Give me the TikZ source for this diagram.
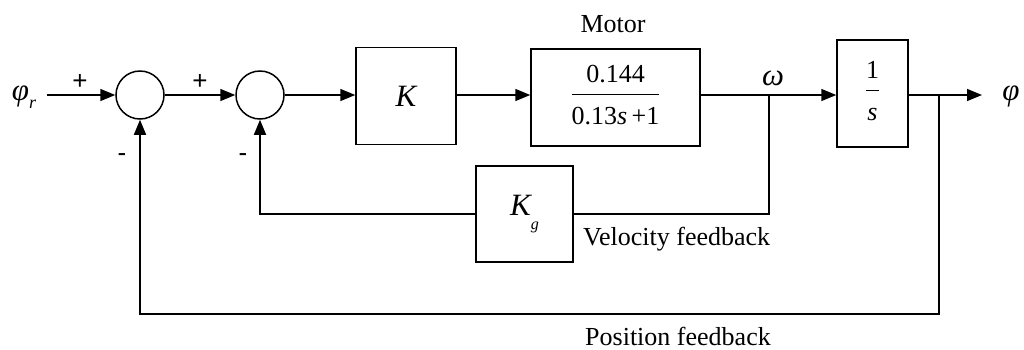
\RequirePackage{fix-cm}
\documentclass[tikz,border=0pt]{standalone}
\usepackage{fontspec}
\setmainfont{Liberation Serif}
\newfontfamily\signfont{Liberation Sans}
\usetikzlibrary{arrows.meta,positioning,calc}

\tikzset{
  sumnode/.style={draw, circle, line width=1.5pt, minimum size=48pt, inner sep=0pt},
  blockbox/.style={draw, rectangle, line width=1.5pt, inner sep=0pt},
  sig/.style={line width=1.5pt},
  sigarrow/.style={sig, -{Triangle[length=15pt,width=12pt]}},
  lbl/.style={font=\fontsize{26}{30}\selectfont, inner sep=0pt},
  biglbl/.style={font=\fontsize{31}{36}\selectfont\itshape, inner sep=0pt},
  signlbl/.style={font=\signfont\fontsize{26}{30}\selectfont, inner sep=0pt},
}
% fraction set in the text font
\newcommand{\blockfrac}[2]{%
  \begin{tabular}{@{}c@{}}#1\\[3pt]\hline\rule{0pt}{30pt}#2\end{tabular}}

\begin{document}
\begin{tikzpicture}[x=1pt, y=-1pt]
    \useasboundingbox (0,0) rectangle (1024,349);
    % blocks
    \node[sumnode] (sum1) at (140,95) {};
    \node[sumnode] (sum2) at (260,95) {};
    \node[blockbox, biglbl, minimum width=100pt, minimum height=97pt] (gainK) at (406,96) {K};
    \node[blockbox, lbl, minimum width=169pt, minimum height=97pt] (motor) at (615.5,97.5)
        {\blockfrac{0.144}{0.13\textit{s}\,+1}};
    \node[blockbox, lbl, minimum width=71pt, minimum height=107pt] (integ) at (872.5,93.5)
        {\blockfrac{1}{\textit{s}}};
    \node[blockbox, biglbl, minimum width=97pt, minimum height=96pt] (kg) at (524.5,214)
        {K\raisebox{-14pt}{\fontsize{16}{16}\selectfont g}};
    % signal points
    \coordinate (refend) at (47,95);
    \coordinate (wtap) at (769,95);
    \coordinate (phitap) at (939,95);
    \coordinate (outend) at (982,95);
    \coordinate (posbot) at (939,314);
    % forward path
    \draw[sigarrow] (refend) -- (sum1);
    \draw[sigarrow] (sum1) -- (sum2);
    \draw[sigarrow] (sum2.east) -- (sum2.east -| gainK.west);
    \draw[sigarrow] (gainK.east |- sum2) -- (sum2 -| motor.west);
    \draw[sig] (motor.east |- wtap) -- (wtap);
    \draw[sigarrow] (wtap) -- (wtap -| integ.west);
    \draw[sig] (integ.east |- phitap) -- (phitap);
    \draw[sigarrow] (phitap) -- (outend);
    % feedback paths
    \draw[sig] (wtap) -- (wtap |- kg) -- (kg.east);
    \draw[sigarrow] (kg.west) -- (kg.west -| sum2) -- (sum2.south);
    \draw[sigarrow] (phitap) -- (posbot) -| (sum1.south);
    % labels
    \node[biglbl] (reflbl) at (24,97) {φ\raisebox{-8pt}{\fontsize{18}{18}\selectfont r}};
    \node[biglbl] (outlbl) at (1011,96) {φ};
    \node[biglbl] (omegalbl) at (773,78) {ω};
    \node[lbl, anchor=base] (motorlbl) at (613,32) {Motor};
    \node[lbl, anchor=base west] (vellbl) at (583,245) {Velocity feedback};
    \node[lbl, anchor=base west] (poslbl) at (585,345) {Position feedback};
    \node[signlbl] (plus1) at (80,82) {+};
    \node[signlbl] (plus2) at (200,82) {+};
    \node[signlbl] (minus1) at (122,158) {-};
    \node[signlbl] (minus2) at (243,158) {-};
\end{tikzpicture}
\end{document}
